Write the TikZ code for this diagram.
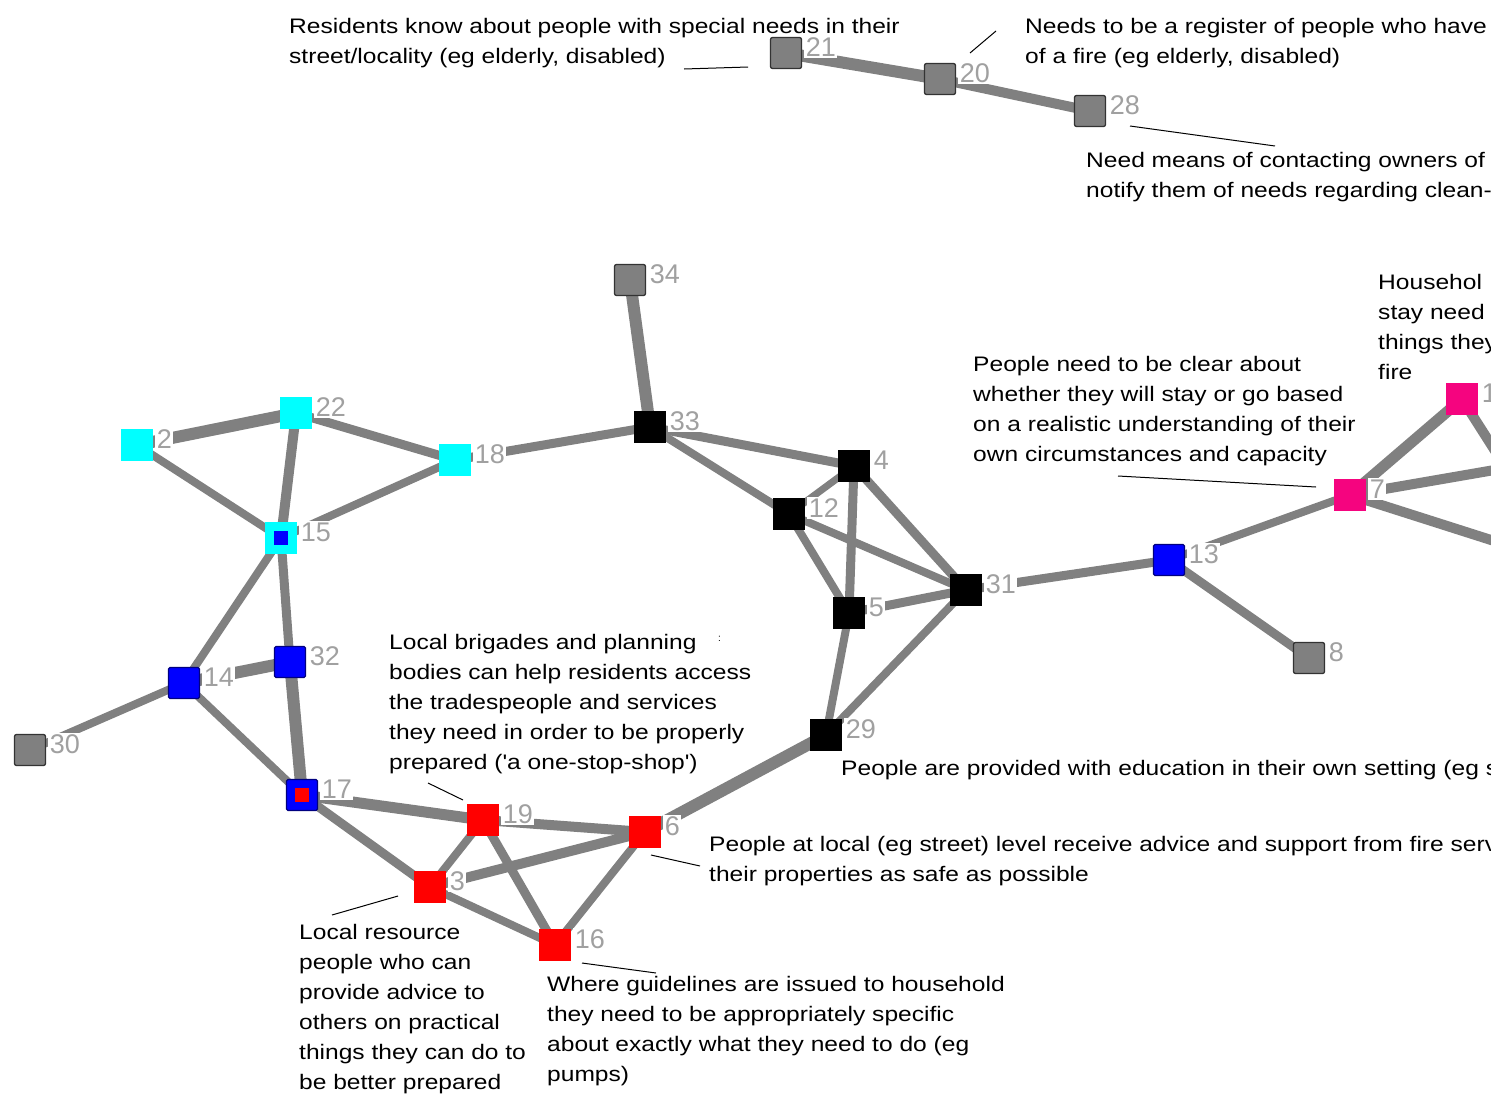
\documentclass[tikz,border=0pt]{standalone}
\usepackage{fontspec}
\setmainfont{Liberation Sans}
\newfontfamily\widefont{Liberation Sans}[FakeStretch=1.17]
\definecolor{edgegray}{HTML}{808080}
\definecolor{nodegray}{HTML}{808080}
\definecolor{rimgray}{HTML}{333333}
\definecolor{navyrim}{HTML}{000080}
\definecolor{labelgray}{HTML}{A0A0A0}
\definecolor{hotpink}{HTML}{F5047F}
\definecolor{cyanfill}{HTML}{00FFFF}
\definecolor{bluefill}{HTML}{0000FF}
\definecolor{redfill}{HTML}{FF0000}
\begin{document}
\begin{tikzpicture}[x=1pt,y=-1pt,
  link/.style={draw=edgegray,line width=#1},
  link/.default=9,
  nd/.style={rectangle,minimum size=31pt,inner sep=0pt},
  gnode/.style={nd,fill=nodegray,draw=rimgray,line width=1.3pt,rounded corners=2pt},
  knode/.style={nd,fill=black,minimum size=32pt},
  blnode/.style={nd,fill=bluefill,draw=navyrim,line width=1.3pt,rounded corners=1.5pt},
  cnode/.style={nd,fill=cyanfill,minimum size=32pt},
  rnode/.style={nd,fill=redfill,minimum size=32pt},
  mnode/.style={nd,fill=hotpink,minimum size=32pt},
  lbl/.style={anchor=north west,fill=white,inner sep=1.5pt,text=labelgray,font=\fontsize{27}{27}\selectfont},
  txt/.style={anchor=north west,inner sep=0pt,align=left,font=\widefont\fontsize{21}{30}\selectfont},
  ptr/.style={draw=black,line width=1pt}]
\useasboundingbox (0,0) rectangle (1491,1095);
\fill[white] (0,0) rectangle (1491,1095);
\clip (0,0) rectangle (1491,1095);

% ---------- node positions ----------
\coordinate (c21) at (786,53);
\coordinate (c20) at (940,79);
\coordinate (c28) at (1090,111);
\coordinate (c34) at (630,280);
\coordinate (c33) at (650,427);
\coordinate (c2) at (137,445);
\coordinate (c22) at (296,413);
\coordinate (c18) at (455,460);
\coordinate (c15) at (281,538);
\coordinate (c4) at (854,466);
\coordinate (c12) at (789,514);
\coordinate (c5) at (849,613);
\coordinate (c31) at (966,590);
\coordinate (c13) at (1169,560);
\coordinate (c8) at (1309,658);
\coordinate (c7) at (1350,495);
\coordinate (c1) at (1462,399);
\coordinate (c32) at (290,662);
\coordinate (c14) at (184,683);
\coordinate (c30) at (30,750);
\coordinate (c17) at (302,795);
\coordinate (c19) at (483,820);
\coordinate (c6) at (645,832);
\coordinate (c3) at (430,887);
\coordinate (c16) at (555,945);
\coordinate (c29) at (826,735);
\coordinate (offA) at (1506,468);
\coordinate (offB) at (1560,562);

% ---------- edges ----------
\draw[link=12] (c21) -- (c20);
\draw[link=10] (c20) -- (c28);
\draw[link=12] (c34) -- (c33);
\draw[link=9] (c33) -- (c18);
\draw[link=9] (c33) -- (c4);
\draw[link=8] (c33) -- (c12);
\draw[link=7] (c4) -- (c12);
\draw[link=9] (c4) -- (c5);
\draw[link=9] (c4) -- (c31);
\draw[link=8] (c12) -- (c5);
\draw[link=8] (c12) -- (c31);
\draw[link=9] (c5) -- (c31);
\draw[link=9] (c31) -- (c13);
\draw[link=8] (c31) -- (c29);
\draw[link=8] (c5) -- (c29);
\draw[link=12] (c29) -- (c6);
\draw[link=8] (c13) -- (c7);
\draw[link=9] (c13) -- (c8);
\draw[link=11] (c7) -- (c1);
\draw[link=10] (c7) -- (offA);
\draw[link=10] (c1) -- (offA);
\draw[link=10] (c7) -- (offB);
\draw[link=12] (c2) -- (c22);
\draw[link=8] (c2) -- (c15);
\draw[link=10] (c22) -- (c15);
\draw[link=9] (c22) -- (c18);
\draw[link=8] (c18) -- (c15);
\draw[link=8] (c15) -- (c14);
\draw[link=9] (c15) -- (c32);
\draw[link=12] (c14) -- (c32);
\draw[link=8] (c14) -- (c30);
\draw[link=8] (c14) -- (c17);
\draw[link=12] (c32) -- (c17);
\draw[link=11] (c17) -- (c19);
\draw[link=9] (c17) -- (c3);
\draw[link=10] (c19) -- (c6);
\draw[link=8] (c19) -- (c3);
\draw[link=9] (c19) -- (c16);
\draw[link=10] (c3) -- (c6);
\draw[link=8] (c3) -- (c16);
\draw[link=8] (c6) -- (c16);

% ---------- nodes ----------
\node[gnode] (n21) at (c21) {};
\node[gnode] (n20) at (c20) {};
\node[gnode] (n28) at (c28) {};
\node[gnode] (n34) at (c34) {};
\node[knode] (n33) at (c33) {};
\node[cnode] (n2) at (c2) {};
\node[cnode] (n22) at (c22) {};
\node[cnode] (n18) at (c18) {};
\node[cnode] (n15) at (c15) {};
\node[nd,fill=bluefill,minimum size=14pt] (n15i) at (c15) {};
\node[knode] (n4) at (c4) {};
\node[knode] (n12) at (c12) {};
\node[knode] (n5) at (c5) {};
\node[knode] (n31) at (c31) {};
\node[blnode] (n13) at (c13) {};
\node[gnode] (n8) at (c8) {};
\node[mnode] (n7) at (c7) {};
\node[mnode] (n1) at (c1) {};
\node[blnode] (n32) at (c32) {};
\node[blnode] (n14) at (c14) {};
\node[gnode] (n30) at (c30) {};
\node[blnode] (n17) at (c17) {};
\node[nd,fill=redfill,minimum size=14pt] (n17i) at (c17) {};
\node[rnode] (n19) at (c19) {};
\node[rnode] (n6) at (c6) {};
\node[rnode] (n3) at (c3) {};
\node[rnode] (n16) at (c16) {};
\node[knode] (n29) at (c29) {};

% ---------- number labels ----------
\foreach \n in {21,20,28,34,33,2,22,18,15,4,12,5,31,13,8,7,1,32,14,30,17,19,6,3,16,29}{
  \node[lbl] (l\n) at ([xshift=2pt,yshift=1pt]n\n.north east) {\n};
}

% ---------- texts ----------
\node[txt] (t21) at (289,18) {Residents know about people with special needs in their\\street/locality (eg elderly, disabled)};
\node[txt] (t20) at (1025,18) {Needs to be a register of people who have\\of a fire (eg elderly, disabled)};
\node[txt] (t28) at (1086,152) {Need means of contacting owners of\\notify them of needs regarding clean-};
\node[txt] (t1) at (1378,274) {Househol\\stay need a\\things they\\fire};
\node[txt] (t7) at (973,356) {People need to be clear about\\whether they will stay or go based\\on a realistic understanding of their\\own circumstances and capacity};
\node[txt] (t19) at (389,634) {Local brigades and planning\\bodies can help residents access\\the tradespeople and services\\they need in order to be properly\\prepared ('a one-stop-shop')};
\node[txt,font=\fontsize{10}{10}\selectfont] (tcolon) at (718,636) {:};
\node[txt] (t29) at (841,760) {People are provided with education in their own setting (eg street)};
\node[txt] (t6) at (709,836) {People at local (eg street) level receive advice and support from fire services\\their properties as safe as possible};
\node[txt] (t3) at (299,924) {Local resource\\people who can\\provide advice to\\others on practical\\things they can do to\\be better prepared};
\node[txt] (t16) at (547,976) {Where guidelines are issued to household\\they need to be appropriately specific\\about exactly what they need to do (eg\\pumps)};

% ---------- pointer lines ----------
\coordinate (p21a) at (684,69); \coordinate (p21b) at (748,67);
\coordinate (p20a) at (970,53); \coordinate (p20b) at (996,31);
\coordinate (p28a) at (1130,126); \coordinate (p28b) at (1275,146);
\coordinate (p7a) at (1118,476); \coordinate (p7b) at (1316,487);
\coordinate (p19a) at (428,783); \coordinate (p19b) at (463,800);
\coordinate (p6a) at (651,855); \coordinate (p6b) at (700,866);
\coordinate (p3a) at (332,915); \coordinate (p3b) at (398,896);
\coordinate (p16a) at (582,963); \coordinate (p16b) at (656,973);
\draw[ptr] (p21a) -- (p21b);
\draw[ptr] (p20a) -- (p20b);
\draw[ptr] (p28a) -- (p28b);
\draw[ptr] (p7a) -- (p7b);
\draw[ptr] (p19a) -- (p19b);
\draw[ptr] (p6a) -- (p6b);
\draw[ptr] (p3a) -- (p3b);
\draw[ptr] (p16a) -- (p16b);
\end{tikzpicture}
\end{document}
